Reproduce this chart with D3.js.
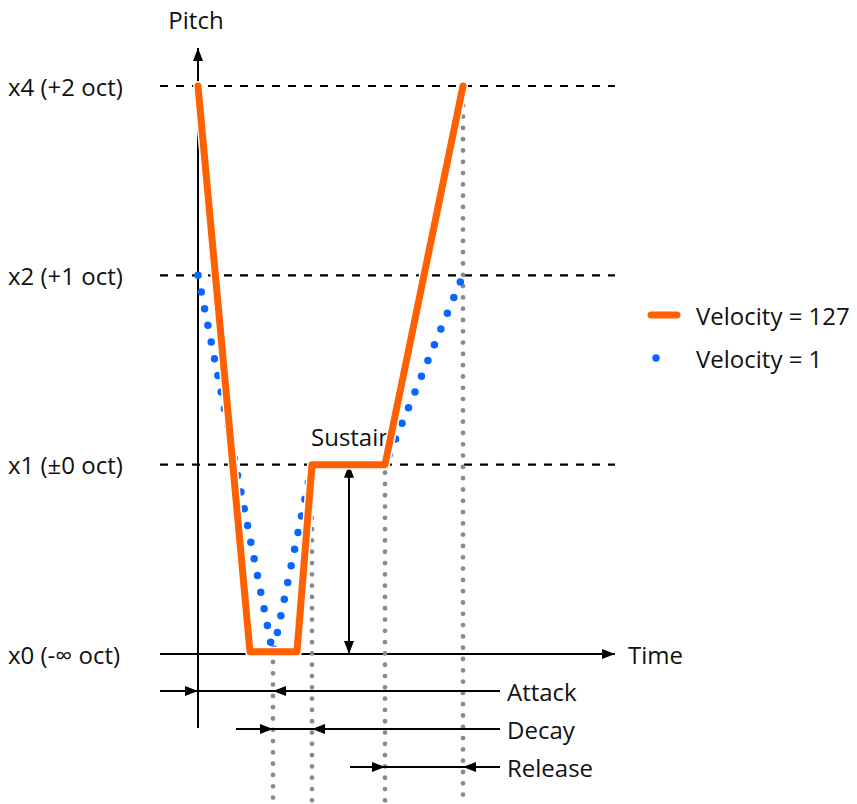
<!DOCTYPE html>
<html>
<head>
<meta charset="utf-8">
<script src="https://cdn.jsdelivr.net/npm/d3@7"></script>
<style>
  html, body { margin: 0; padding: 0; background: #fff; }
  svg text { font-family: "Open Sans", "Noto Sans", sans-serif; font-size: 24px; fill: #111; }
</style>
</head>
<body>
<svg id="chart" width="857" height="804"></svg>
<script>
// Pitch levels (evenly spaced on the vertical axis)
const levelNames = ["x0 (-∞ oct)", "x1 (±0 oct)", "x2 (+1 oct)", "x4 (+2 oct)"];
const levelValues = [0, 1, 2, 3];

// Envelope breakpoints: time units, pitch level index
const velocity127Times = [0, 5.2, 9.9, 11.4, 18.7, 26.5];
const velocity127Levels = [3, 0, 0, 1, 1, 3];
const velocity1Times = [0, 7.5, 11.4, 18.7, 26.5];
const velocity1Levels = [2, 0, 1, 1, 2];

// Envelope stages and their time spans
const stageNames = ["Attack", "Decay", "Release"];
const stageStarts = [0, 7.5, 18.7];
const stageEnds = [7.5, 11.4, 26.5];

// Vertical guide times and the level each guide starts from
const guideTimes = [7.5, 11.4, 18.7, 26.5];
const guideFrom = [0, 1, 1, 3];

const legendLabels = ["Velocity = 127", "Velocity = 1"];

const svg = d3.select("#chart");
const x = d3.scaleLinear().domain([0, 26.5]).range([198, 463]);
const y = d3.scaleLinear().domain([0, 3]).range([654, 86]);

const orange = "#ff6000";
const blue = "#0a66ff";
const xLeft = 160, xRight = 615;

// Arrowheads
const defs = svg.append("defs");
function marker(id, orient) {
  defs.append("marker").attr("id", id)
    .attr("viewBox", "0 0 13 10").attr("refX", 13).attr("refY", 5)
    .attr("markerWidth", 13).attr("markerHeight", 10)
    .attr("markerUnits", "userSpaceOnUse").attr("orient", orient)
    .append("path").attr("d", "M0,0 L13,5 L0,10 Z").attr("fill", "#000");
}
marker("head", "auto");
marker("headStart", "auto-start-reverse");

// Dashed level lines
svg.append("g").selectAll("line")
  .data(levelValues.filter(v => v > 0))
  .join("line")
  .attr("x1", xLeft).attr("x2", xRight)
  .attr("y1", d => y(d)).attr("y2", d => y(d))
  .attr("stroke", "#000").attr("stroke-width", 2.2)
  .attr("stroke-dasharray", "8,8");

// Level labels
svg.append("g").selectAll("text")
  .data(levelValues)
  .join("text")
  .attr("x", 8).attr("y", d => y(d))
  .attr("dominant-baseline", "central")
  .text((d, i) => levelNames[i]);

// Time axis
svg.append("line")
  .attr("x1", xLeft).attr("x2", xRight)
  .attr("y1", y(0)).attr("y2", y(0))
  .attr("stroke", "#000").attr("stroke-width", 2)
  .attr("marker-end", "url(#head)");
svg.append("text").attr("x", 628).attr("y", y(0))
  .attr("dominant-baseline", "central").text("Time");

// Pitch axis
svg.append("line")
  .attr("x1", x(0)).attr("x2", x(0))
  .attr("y1", 728).attr("y2", 48)
  .attr("stroke", "#000").attr("stroke-width", 2)
  .attr("marker-end", "url(#head)");
svg.append("text").attr("x", 196).attr("y", 19)
  .attr("text-anchor", "middle").attr("dominant-baseline", "central").text("Pitch");

// Gray dotted guides
svg.append("g").selectAll("line")
  .data(guideTimes)
  .join("line")
  .attr("x1", d => x(d)).attr("x2", d => x(d))
  .attr("y1", (d, i) => y(guideFrom[i]) + 8).attr("y2", 804)
  .attr("stroke", "#8a8a8a").attr("stroke-width", 4.8)
  .attr("stroke-linecap", "round").attr("stroke-dasharray", "0,11.3");

// Sustain level arrow
svg.append("line")
  .attr("x1", x(15.1)).attr("x2", x(15.1))
  .attr("y1", y(1)).attr("y2", y(0))
  .attr("stroke", "#000").attr("stroke-width", 2)
  .attr("marker-start", "url(#headStart)").attr("marker-end", "url(#head)");
svg.append("text").attr("x", 311).attr("y", 436)
  .attr("dominant-baseline", "central").text("Sustain");

// Stage span arrows
const rowY = [691, 729, 767];
const rowStartX = [160, 236, 350];
stageNames.forEach((name, i) => {
  const g = svg.append("g");
  const xa = x(stageStarts[i]), xb = x(stageEnds[i]);
  g.append("line").attr("x1", rowStartX[i]).attr("x2", xa)
    .attr("y1", rowY[i]).attr("y2", rowY[i])
    .attr("stroke", "#000").attr("stroke-width", 2).attr("marker-end", "url(#head)");
  g.append("line").attr("x1", 500).attr("x2", xb)
    .attr("y1", rowY[i]).attr("y2", rowY[i])
    .attr("stroke", "#000").attr("stroke-width", 2).attr("marker-end", "url(#head)");
  g.append("line").attr("x1", xa).attr("x2", xb)
    .attr("y1", rowY[i]).attr("y2", rowY[i])
    .attr("stroke", "#000").attr("stroke-width", 2);
  g.append("text").attr("x", 507).attr("y", rowY[i])
    .attr("dominant-baseline", "central").text(name);
});

const line = d3.line().x(d => x(d[0])).y(d => y(d[1]));

// Velocity = 1 (dotted)
const v1 = velocity1Times.map((t, i) => [t, velocity1Levels[i]]);
svg.append("path").datum(v1).attr("d", line)
  .attr("fill", "none").attr("stroke", blue).attr("stroke-width", 7.5)
  .attr("stroke-linecap", "round").attr("stroke-dasharray", "0,17");

// Velocity = 127 (solid, white halo)
const v127 = velocity127Times.map((t, i) => [t, velocity127Levels[i] === 0 ? 0.012 : velocity127Levels[i]]);
svg.append("path").datum(v127).attr("d", line)
  .attr("fill", "none").attr("stroke", "#fff").attr("stroke-width", 10)
  .attr("stroke-linecap", "round").attr("stroke-linejoin", "round");
svg.append("path").datum(v127).attr("d", line)
  .attr("fill", "none").attr("stroke", orange).attr("stroke-width", 7)
  .attr("stroke-linecap", "round").attr("stroke-linejoin", "round");

// Legend
const lg = svg.append("g");
lg.append("line").attr("x1", 651).attr("x2", 677).attr("y1", 315).attr("y2", 315)
  .attr("stroke", orange).attr("stroke-width", 7).attr("stroke-linecap", "round");
lg.append("line").attr("x1", 656).attr("x2", 674).attr("y1", 358).attr("y2", 358)
  .attr("stroke", blue).attr("stroke-width", 7.5).attr("stroke-linecap", "round")
  .attr("stroke-dasharray", "0,18");
legendLabels.forEach((t, i) => {
  lg.append("text").attr("x", 696).attr("y", 315 + i * 43)
    .attr("dominant-baseline", "central").text(t);
});
</script>
</body>
</html>
